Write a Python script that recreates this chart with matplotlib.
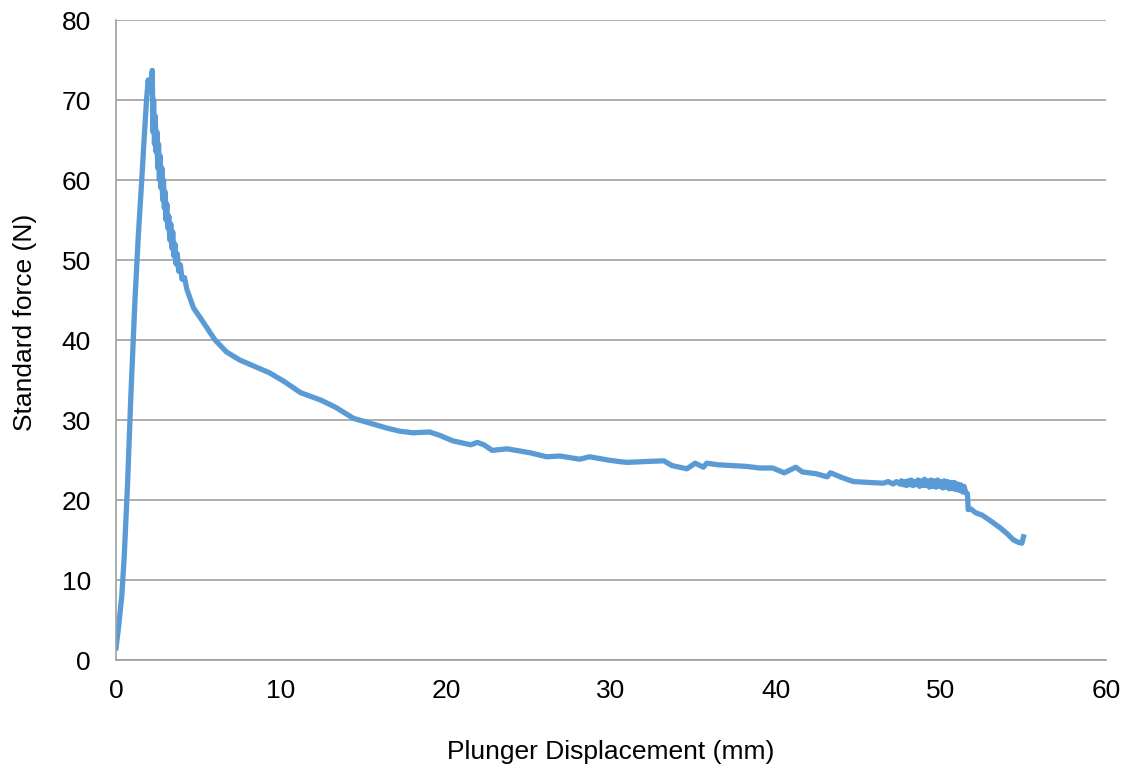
import numpy as np
import matplotlib.pyplot as plt

# plunger displacement (mm) and standard force (N), read point by point
displacement = [
    0.0, 0.15, 0.35, 0.5, 0.7, 0.9, 1.15, 1.35, 1.55, 1.7, 1.85, 1.95, 2.05, 2.2,
    2.24, 2.28, 2.33, 2.38, 2.43, 2.48, 2.53, 2.58, 2.63, 2.68, 2.73, 2.78,
    2.83, 2.88, 2.93, 2.98, 3.03, 3.08, 3.14, 3.2, 3.26, 3.32, 3.38, 3.44,
    3.5, 3.57, 3.64, 3.71, 3.8, 3.9, 4.0, 4.15, 4.3, 4.7, 5.2, 6.0, 6.7, 7.5,
    8.4, 9.3, 10.2, 11.2, 12.4, 13.3, 14.4, 15.4, 16.4, 17.2, 18.0, 19.0,
    19.6, 20.4, 21.5, 21.9, 22.3, 22.8, 23.7, 25.1, 26.1, 26.9, 28.1, 28.7,
    29.8, 30.5, 31.0, 32.0, 33.2, 33.7, 34.6, 35.1, 35.6, 35.8, 36.5, 37.4,
    38.2, 39.0, 39.8, 40.5, 41.2, 41.6, 42.4, 43.1, 43.3, 44.0, 44.7, 45.6,
    46.5, 46.8, 47.1, 47.3, 47.5,
    47.6, 47.7, 47.8, 47.9, 48.0, 48.1, 48.2, 48.3, 48.4, 48.5,
    48.6, 48.7, 48.8, 48.9, 49.0, 49.1, 49.2, 49.3, 49.4, 49.5,
    49.6, 49.7, 49.8, 49.9, 50.0, 50.1, 50.2, 50.3, 50.4, 50.5,
    50.6, 50.7, 50.8, 50.9, 51.0, 51.1, 51.2, 51.3, 51.4, 51.5,
    51.6, 51.65, 51.8, 52.1, 52.5, 53.0, 53.6, 54.0, 54.4, 54.7, 54.9, 55.0,
]
force = [
    1.5, 4.0, 8.0, 13.0, 22.0, 33.0, 45.0, 53.0, 59.6, 65.0, 70.0, 72.5, 71.0, 73.7,
    66.0, 70.0, 64.5, 68.0, 63.5, 66.0, 61.5, 64.5, 60.0, 63.0, 59.0, 61.5,
    57.5, 60.0, 56.5, 58.5, 55.0, 57.0, 54.0, 55.5, 52.5, 54.5, 51.5, 53.5,
    50.5, 52.0, 49.5, 50.8, 48.6, 49.4, 47.6, 47.8, 46.3, 44.0, 42.5, 40.0, 38.5, 37.5,
    36.7, 35.9, 34.8, 33.4, 32.5, 31.6, 30.2, 29.6, 29.0, 28.6, 28.4, 28.5,
    28.1, 27.4, 26.9, 27.2, 26.9, 26.2, 26.4, 25.9, 25.4, 25.5, 25.1, 25.4,
    25.0, 24.8, 24.7, 24.8, 24.9, 24.3, 23.9, 24.6, 24.1, 24.6, 24.4, 24.3,
    24.2, 24.0, 24.0, 23.4, 24.1, 23.5, 23.3, 22.9, 23.4, 22.8, 22.3, 22.2,
    22.1, 22.3, 22.0, 22.3, 22.0,
    22.4, 21.9, 22.3, 21.8, 22.4, 21.9, 22.5, 21.8, 22.3, 21.9,
    22.5, 21.7, 22.4, 21.8, 22.6, 21.8, 22.4, 21.6, 22.5, 21.7,
    22.4, 21.6, 22.5, 21.7, 22.3, 21.5, 22.4, 21.6, 22.3, 21.4,
    22.2, 21.4, 22.2, 21.3, 22.0, 21.2, 21.9, 21.0, 21.7, 20.9,
    20.8, 18.8, 18.9, 18.4, 18.1, 17.4, 16.5, 15.8, 15.0, 14.7, 14.6, 15.4,
]

x_ticks = [0, 10, 20, 30, 40, 50, 60]
y_ticks = [0, 10, 20, 30, 40, 50, 60, 70, 80]

plt.rcParams['font.family'] = ['Liberation Sans', 'DejaVu Sans']

fig = plt.figure(figsize=(11.29, 7.68), dpi=100)
ax = fig.add_axes([116 / 1129, 108 / 768, 990 / 1129, 640 / 768])

ax.plot(displacement, force, color='#5B9BD5', linewidth=3.8, solid_joinstyle='round')

ax.set_xlim(0, 60)
ax.set_ylim(0, 80)
ax.set_xticks(x_ticks)
ax.set_yticks(y_ticks)
ax.tick_params(length=0, labelsize=19)
ax.tick_params(axis='x', pad=14)
ax.tick_params(axis='y', pad=18)
ax.grid(axis='y', color='#a0a0a0', linewidth=1.2)
ax.set_axisbelow(True)

for side in ['top', 'right']:
    ax.spines[side].set_visible(False)
for side in ['left', 'bottom']:
    ax.spines[side].set_color('#a0a0a0')
    ax.spines[side].set_linewidth(1.2)

ax.set_xlabel('Plunger Displacement (mm)', fontsize=19, labelpad=26)
ax.set_ylabel('Standard force (N)', fontsize=19)
ax.yaxis.set_label_coords(-0.08, 0.528)

fig.savefig('out.png', dpi=100)
